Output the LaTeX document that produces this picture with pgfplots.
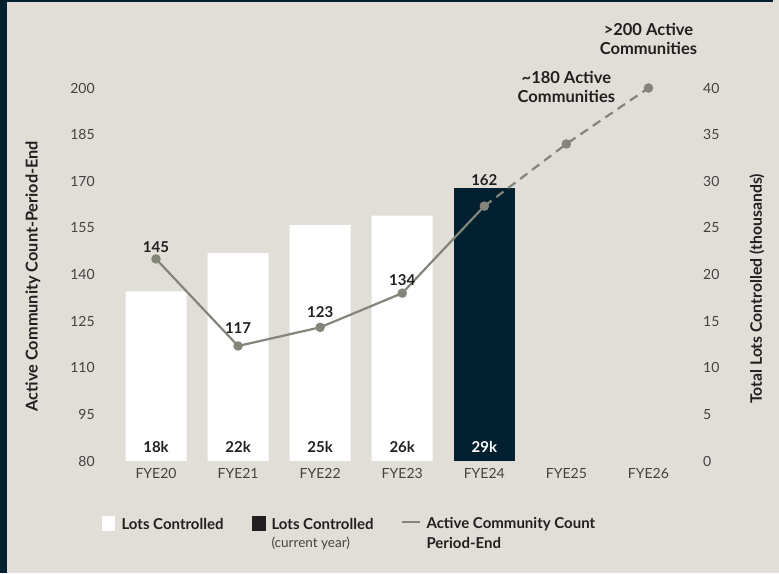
\documentclass[border=0pt]{standalone}
\usepackage{pgfplots}
\pgfplotsset{compat=1.18}
\usepackage{fontspec}
\setmainfont{Lato}
\definecolor{bg}{HTML}{E1DED8}
\definecolor{navy}{HTML}{02202F}
\definecolor{lgray}{HTML}{84857A}
\definecolor{txt}{HTML}{231F20}
\begin{document}
\begin{tikzpicture}[x=1pt,y=1pt]
\fill[bg] (0,0) rectangle (779,573);
\fill[navy] (0,0) rectangle (7,573);
\fill[navy] (0,571) rectangle (773,573);
\pgfplotsset{
  base/.style={
    at={(100.2pt,112pt)}, anchor=south west,
    width=597.5pt, height=373pt, scale only axis,
    xmin=-0.68, xmax=6.6,
    axis line style={draw=none},
    major tick style={draw=none},
    tick label style={font=\fontsize{14}{16}\selectfont, text=txt!85},
    /pgf/number format/assume math mode=true,
    clip=false,
  }
}
% right axis: bars
\begin{axis}[base,
  ymin=0, ymax=40, ytick={0,5,...,40},
  axis y line*=right,
  xtick={0,1,2,3,4,5,6},
  xticklabels={FYE20,FYE21,FYE22,FYE23,FYE24,FYE25,FYE26},
  xticklabel style={yshift=-4pt},
  yticklabel style={xshift=2pt},
  ylabel={\textbf{Total Lots Controlled (thousands)}},
  every axis y label/.style={at={(757pt-100.2pt,284pt-112pt)}, rotate=90, anchor=center, font=\fontsize{15.8}{16}\selectfont, text=txt},
]
\addplot[ybar, bar width=61pt, fill=white, draw=none] coordinates {(0,18.2) (1,22.3) (2,25.3) (3,26.3)};
\addplot[ybar, bar width=61pt, fill=navy, draw=none] coordinates {(4,29.3)};
\node[font=\bfseries\fontsize{15}{16}\selectfont, text=txt] at (axis cs:0,0) [yshift=14pt] {18k};
\node[font=\bfseries\fontsize{15}{16}\selectfont, text=txt] at (axis cs:1,0) [yshift=14pt] {22k};
\node[font=\bfseries\fontsize{15}{16}\selectfont, text=txt] at (axis cs:2,0) [yshift=14pt] {25k};
\node[font=\bfseries\fontsize{15}{16}\selectfont, text=txt] at (axis cs:3,0) [yshift=14pt] {26k};
\node[font=\bfseries\fontsize{15}{16}\selectfont, text=white] at (axis cs:4,0) [yshift=14pt] {29k};
\end{axis}
% left axis: line
\begin{axis}[base,
  ymin=80, ymax=200, ytick={80,95,...,200},
  axis y line*=left,
  xtick=\empty,
  yticklabel style={xshift=-2pt},
  ylabel={\textbf{Active Community Count-Period-End}},
  every axis y label/.style={at={(33pt-100.2pt,297pt-112pt)}, rotate=90, anchor=center, font=\fontsize{16.3}{16}\selectfont, text=txt},
]
\addplot[lgray, line width=2.2pt, mark=*, mark size=3.6pt, mark options={fill=lgray, draw=lgray}]
  coordinates {(0,145) (1,117) (2,123) (3,134) (4,162)};
\addplot[lgray, line width=2.2pt, dash pattern=on 9pt off 6pt, mark=*, mark size=3.6pt, mark options={fill=lgray, draw=lgray, solid}, mark indices={2,3}]
  coordinates {(4,162) (5,182) (6,200)};
\begin{scope}[every node/.style={font=\bfseries\fontsize{15}{16}\selectfont, text=txt}]
\node at (axis cs:0,145) [yshift=12pt] {145};
\node at (axis cs:1,117) [yshift=18pt] {117};
\node at (axis cs:2,123) [yshift=15pt] {123};
\node at (axis cs:3,134) [yshift=13pt] {134};
\node at (axis cs:4,162) [yshift=26pt] {162};
\node[align=center, font=\bfseries\fontsize{16.5}{18.5}\selectfont] at (axis cs:5,182) [yshift=57pt] {\textasciitilde180 Active\\Communities};
\node[align=center, font=\bfseries\fontsize{16.5}{18.5}\selectfont] at (axis cs:6,200) [yshift=49pt] {>200 Active\\Communities};
\end{scope}
\end{axis}
% legend
\fill[white] (102,42) rectangle (115,57);
\node[anchor=west, font=\bfseries\fontsize{15}{16}\selectfont, text=txt] at (118,49) {Lots Controlled};
\fill[txt] (252,42) rectangle (266,57);
\node[anchor=west, font=\bfseries\fontsize{15}{16}\selectfont, text=txt] at (268,49) {Lots Controlled};
\node[anchor=west, font=\fontsize{13.5}{15}\selectfont, text=txt!85] at (268,30) {(current year)};
\draw[lgray, line width=2.2pt] (402,51) -- (420,51);
\node[anchor=west, font=\bfseries\fontsize{15}{16}\selectfont, text=txt] at (423,49) {Active Community Count};
\node[anchor=west, font=\bfseries\fontsize{15}{16}\selectfont, text=txt] at (423,30) {Period-End};
\end{tikzpicture}
\end{document}
